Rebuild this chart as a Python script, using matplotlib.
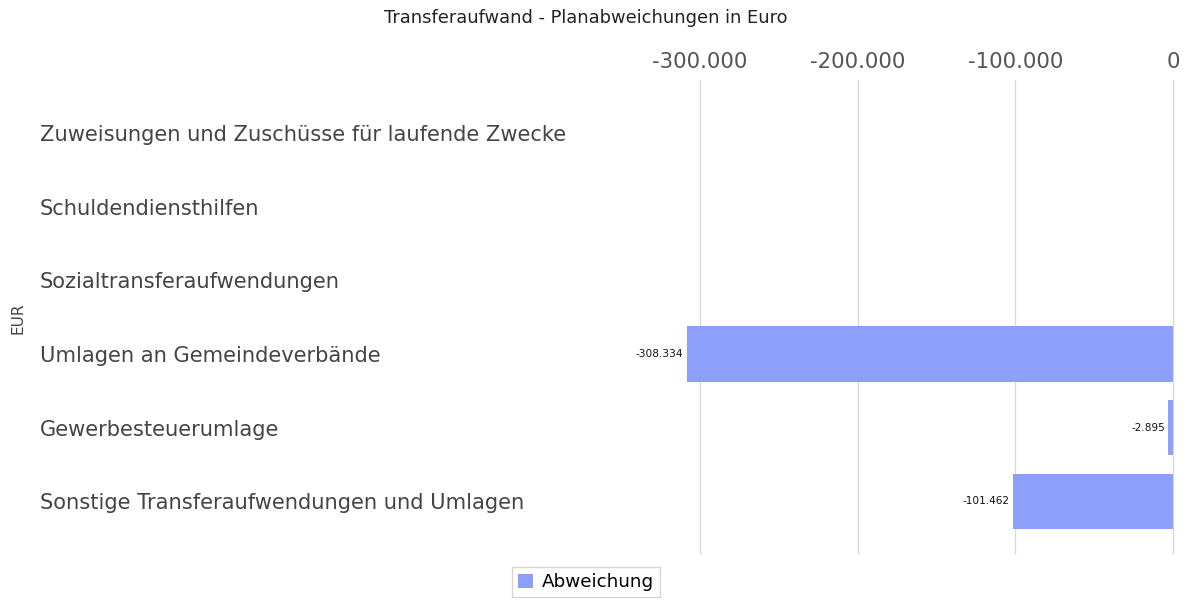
import matplotlib
matplotlib.use("Agg")
import matplotlib.pyplot as plt
from matplotlib.patches import Patch

categories = [
    "Zuweisungen und Zuschüsse für laufende Zwecke",
    "Schuldendiensthilfen",
    "Sozialtransferaufwendungen",
    "Umlagen an Gemeindeverbände",
    "Gewerbesteuerumlage",
    "Sonstige Transferaufwendungen und Umlagen",
]
values = [None, None, None, -308334, -2895, -101462]
xticks = [-300000, -200000, -100000, 0]
xtick_labels = ["-300.000", "-200.000", "-100.000", "0"]
series_name = "Abweichung"
title = "Transferaufwand - Planabweichungen in Euro"
ylabel = "EUR"

plt.rcParams['font.family'] = ['DejaVu Sans']

W, H = 1187, 601
fig = plt.figure(figsize=(W / 100, H / 100), dpi=100)
left_px, right_px, top_px, bot_px = 40, 1173, 80, 553
ax = fig.add_axes([left_px / W, 1 - bot_px / H, (right_px - left_px) / W, (bot_px - top_px) / H])

bar_color = "#8c9ffa"
ys = list(range(len(categories)))
for y, v in zip(ys, values):
    if v is None:
        continue
    ax.barh(y, v, height=0.75, color=bar_color, zorder=2)
    lab = f"{v:,}".replace(",", ".")
    ax.annotate(lab, xy=(v, y), xytext=(-2.5, 0), textcoords="offset points",
                ha="right", va="center", fontsize=7.6, color="#111111")

# x scale: 0 at 1173px, -300000 at 700px
px_per_unit = (1173 - 700) / 300000
xmin = -(right_px - left_px) / px_per_unit
ax.set_xlim(xmin, 0)
ax.set_ylim(5.7, -0.72)

ax.set_xticks(xticks)
ax.set_xticklabels(xtick_labels)
ax.xaxis.tick_top()
ax.tick_params(axis="x", length=0, pad=6, labelsize=15.3, labelcolor="#555555")
ax.grid(axis="x", color="#d9d9d9", linewidth=1, zorder=0)
for gl in ax.get_xgridlines():
    gl.set_clip_on(False)

ax.set_yticks(ys)
ax.set_yticklabels(categories)
ax.tick_params(axis="y", length=0, pad=0, labelsize=15.1, labelcolor="#444444")
for t in ax.get_yticklabels():
    t.set_ha("left")

for s in ax.spines.values():
    s.set_visible(False)

fig.text(586 / W, 1 - 18 / H, title, ha="center", va="center", fontsize=12.9, color="#222222")
fig.text(18 / W, 1 - 318 / H, ylabel, ha="center", va="center", rotation=90, fontsize=11, color="#444444")

handles = [Patch(facecolor=bar_color, edgecolor="none", label=series_name)]
fig.legend(handles=handles, loc="center", bbox_to_anchor=(586 / W, 1 - 582 / H),
           frameon=True, fontsize=13.2, handlelength=0.8, handleheight=0.8,
           fancybox=False, edgecolor="#cccccc", borderpad=0.35, handletextpad=0.5)

fig.savefig("out.png", dpi=100)
